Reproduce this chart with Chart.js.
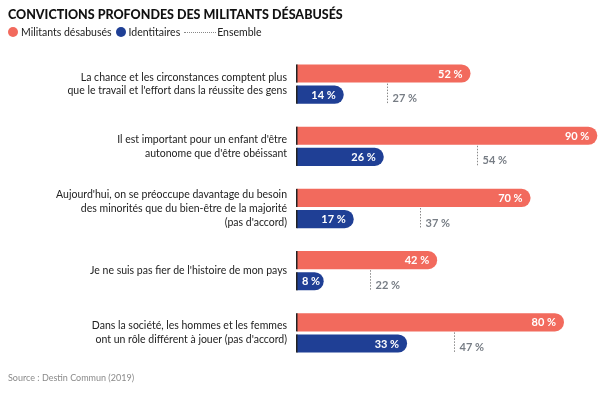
<!DOCTYPE html>
<html>
<head>
<meta charset="utf-8">
<script src="https://cdn.jsdelivr.net/npm/chart.js@4"></script>
<style>
  body { margin: 0; background: #fff; font-family: 'Lato', sans-serif; }
  .wrap { position: relative; width: 614px; height: 395px; overflow: hidden; }
  .title { position: absolute; left: 8px; top: 7px; font-size: 12.5px; font-weight: 900; color: #111; }
  .legend { position: absolute; left: 8px; top: 26px; font-size: 10.5px; color: #222; display: flex; align-items: center; }
  .dot { width: 10px; height: 10px; border-radius: 50%; display: inline-block; margin-right: 3px; }
  .item { display: flex; align-items: center; margin-right: 4px; }
  .dash { width: 32px; border-top: 1px dotted #888; margin-right: 1px; }
  .source { position: absolute; left: 8px; top: 372px; font-size: 9px; color: #8a8a8a; }
  #chart { position: absolute; left: 0; top: 0; }
</style>
</head>
<body>
<div class="wrap">
  <canvas id="chart" width="614" height="395"></canvas>
  <div class="title">CONVICTIONS PROFONDES DES MILITANTS DÉSABUSÉS</div>
  <div class="legend">
    <span class="item"><span class="dot" style="background:#f26a5d"></span>Militants désabusés</span>
    <span class="item"><span class="dot" style="background:#1f3f95"></span>Identitaires</span>
    <span class="item"><span class="dash"></span>Ensemble</span>
  </div>
  <div class="source">Source : Destin Commun (2019)</div>
</div>
<script>
// data
const categories = [
  ['La chance et les circonstances comptent plus', 'que le travail et l\'effort dans la réussite des gens'],
  ['Il est important pour un enfant d\'être', 'autonome que d\'être obéissant'],
  ['Aujourd\'hui, on se préoccupe davantage du besoin', 'des minorités que du bien-être de la majorité', '(pas d\'accord)'],
  ['Je ne suis pas fier de l\'histoire de mon pays'],
  ['Dans la société, les hommes et les femmes', 'ont un rôle différent à jouer (pas d\'accord)']
];
const militants = [52, 90, 70, 42, 80];
const identitaires = [14, 26, 17, 8, 33];
const ensemble = [27, 54, 37, 22, 47];

const red = '#f26a5d';
const blue = '#1f3f95';

// value labels inside bars, left axis stubs, ensemble markers
const extras = {
  id: 'extras',
  afterDatasetsDraw(chart) {
    const ctx = chart.ctx;
    const x = chart.scales.x;
    ctx.save();
    chart.data.datasets.forEach((ds, di) => {
      const meta = chart.getDatasetMeta(di);
      meta.data.forEach((bar, i) => {
        const top = bar.y - bar.height / 2;
        ctx.fillStyle = '#222';
        ctx.fillRect(bar.base - 1, top, 1.5, bar.height);
        const txt = ds.data[i] + ' %';
        ctx.fillStyle = '#fff';
        ctx.font = 'bold 11px Lato';
        ctx.textAlign = 'right';
        ctx.textBaseline = 'middle';
        const w = ctx.measureText(txt).width;
        const tx = Math.max(bar.x - 8, bar.base + 5 + w);
        ctx.fillText(txt, tx, bar.y + 0.5);
      });
    });
    const blueMeta = chart.getDatasetMeta(1);
    blueMeta.data.forEach((bar, i) => {
      const px = Math.round(x.getPixelForValue(ensemble[i])) + 0.5;
      const top = bar.y - bar.height / 2 - 2;
      const bottom = bar.y + bar.height / 2;
      ctx.strokeStyle = '#888';
      ctx.lineWidth = 1;
      ctx.setLineDash([1.5, 1.5]);
      ctx.beginPath();
      ctx.moveTo(px, top);
      ctx.lineTo(px, bottom);
      ctx.stroke();
      ctx.setLineDash([]);
      ctx.fillStyle = '#777d85';
      ctx.font = 'bold 11px Lato';
      ctx.textAlign = 'left';
      ctx.textBaseline = 'middle';
      ctx.fillText(ensemble[i] + ' %', px + 5, bar.y + 4);
    });
    ctx.restore();
  }
};

new Chart(document.querySelector('#chart'), {
  type: 'bar',
  data: {
    labels: categories,
    datasets: [
      {
        label: 'Militants désabusés',
        data: militants,
        backgroundColor: red,
        borderRadius: { topLeft: 0, bottomLeft: 0, topRight: 9, bottomRight: 9 },
        borderSkipped: false,
        categoryPercentage: 0.68,
        barPercentage: 0.86
      },
      {
        label: 'Identitaires',
        data: identitaires,
        backgroundColor: blue,
        borderRadius: { topLeft: 0, bottomLeft: 0, topRight: 9, bottomRight: 9 },
        borderSkipped: false,
        categoryPercentage: 0.68,
        barPercentage: 0.86
      }
    ]
  },
  options: {
    indexAxis: 'y',
    responsive: false,
    animation: false,
    layout: { padding: { top: 53, bottom: 31, right: 10, left: 0 } },
    plugins: { legend: { display: false }, tooltip: { enabled: false } },
    scales: {
      x: { display: false, min: 0, max: 92 },
      y: {
        grid: { display: false, drawTicks: false },
        border: { display: false },
        ticks: {
          color: '#222',
          padding: 10,
          font: { family: 'Lato', size: 10.5, lineHeight: 1.3 }
        },
        afterFit(scale) { scale.width = 297; }
      }
    }
  },
  plugins: [extras]
});
</script>
</body>
</html>
